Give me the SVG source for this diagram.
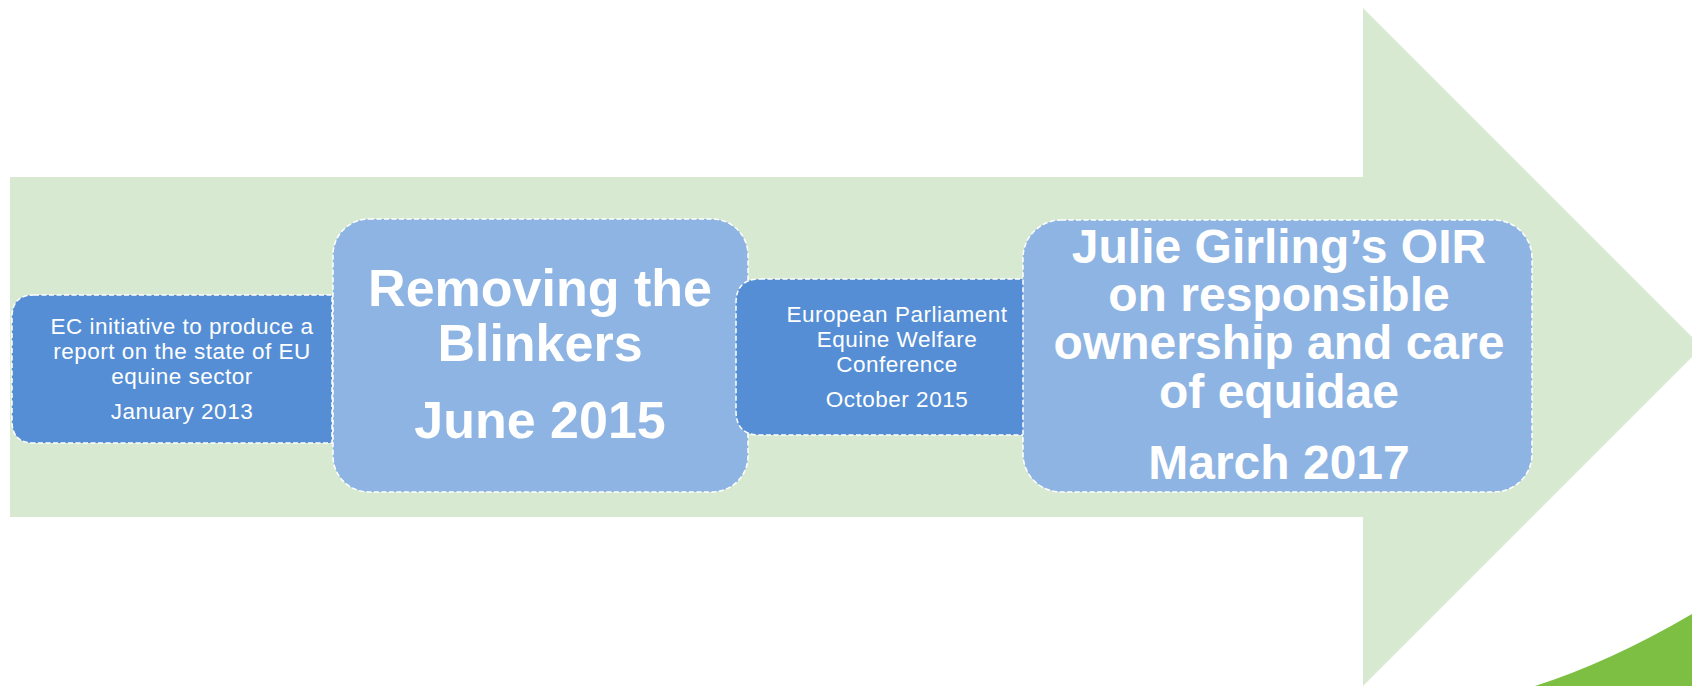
<svg xmlns="http://www.w3.org/2000/svg" width="1692" height="686" viewBox="0 0 1692 686">
<style>
.dark{fill:#558ED5;stroke:#FFFFFF;stroke-width:1.5;stroke-dasharray:5 2.5}
.light{fill:#8EB4E3;stroke:#FFFFFF;stroke-width:1.5;stroke-dasharray:5 2.5}
.small{font-family:"Liberation Sans",Arial,sans-serif;font-size:22.5px;fill:#FFFFFF;text-anchor:middle;letter-spacing:0.5px}
.big{font-family:"Liberation Sans",Arial,sans-serif;font-weight:bold;fill:#FFFFFF;text-anchor:middle}
</style>
<rect width="1692" height="686" fill="#FFFFFF"/>
<g id="arrow">
<polygon points="10,177 1363,177 1363,8 1702,347 1363,686 1363,517 10,517" fill="#D8E9D1"/>
</g>
<g id="corner">
<path d="M1535,686 Q1610,662 1692,614 L1692,686 Z" fill="#7DBF42"/>
</g>
<g id="connectors"></g>
<g id="node1">
<path class="dark" d="M34,295 L332,295 L332,443 L34,443 Q12,443 12,421 L12,317 Q12,295 34,295 Z"/>
<text class="small" x="182" y="334">EC initiative to produce a</text>
<text class="small" x="182" y="359">report on the state of EU</text>
<text class="small" x="182" y="384">equine sector</text>
<text class="small" x="182" y="419">January 2013</text>
</g>
<g id="node2">
<rect class="light" x="333" y="219" width="415" height="273" rx="36" ry="36"/>
<text class="big" x="540" y="306" font-size="52">Removing the</text>
<text class="big" x="540" y="361" font-size="52">Blinkers</text>
<text class="big" x="540" y="438" font-size="52">June 2015</text>
</g>
<g id="node3">
<path class="dark" d="M760,279 L1025,279 L1025,435 L760,435 Q736,435 736,411 L736,303 Q736,279 760,279 Z"/>
<text class="small" x="897" y="322">European Parliament</text>
<text class="small" x="897" y="347">Equine Welfare</text>
<text class="small" x="897" y="372">Conference</text>
<text class="small" x="897" y="407">October 2015</text>
</g>
<g id="node4">
<rect class="light" x="1023" y="220" width="509" height="272" rx="38" ry="38"/>
<text class="big" x="1279" y="263" font-size="48">Julie Girling’s OIR</text>
<text class="big" x="1279" y="311" font-size="48">on responsible</text>
<text class="big" x="1279" y="359" font-size="48">ownership and care</text>
<text class="big" x="1279" y="408" font-size="48">of equidae</text>
<text class="big" x="1279" y="479" font-size="48">March 2017</text>
</g>
</svg>
